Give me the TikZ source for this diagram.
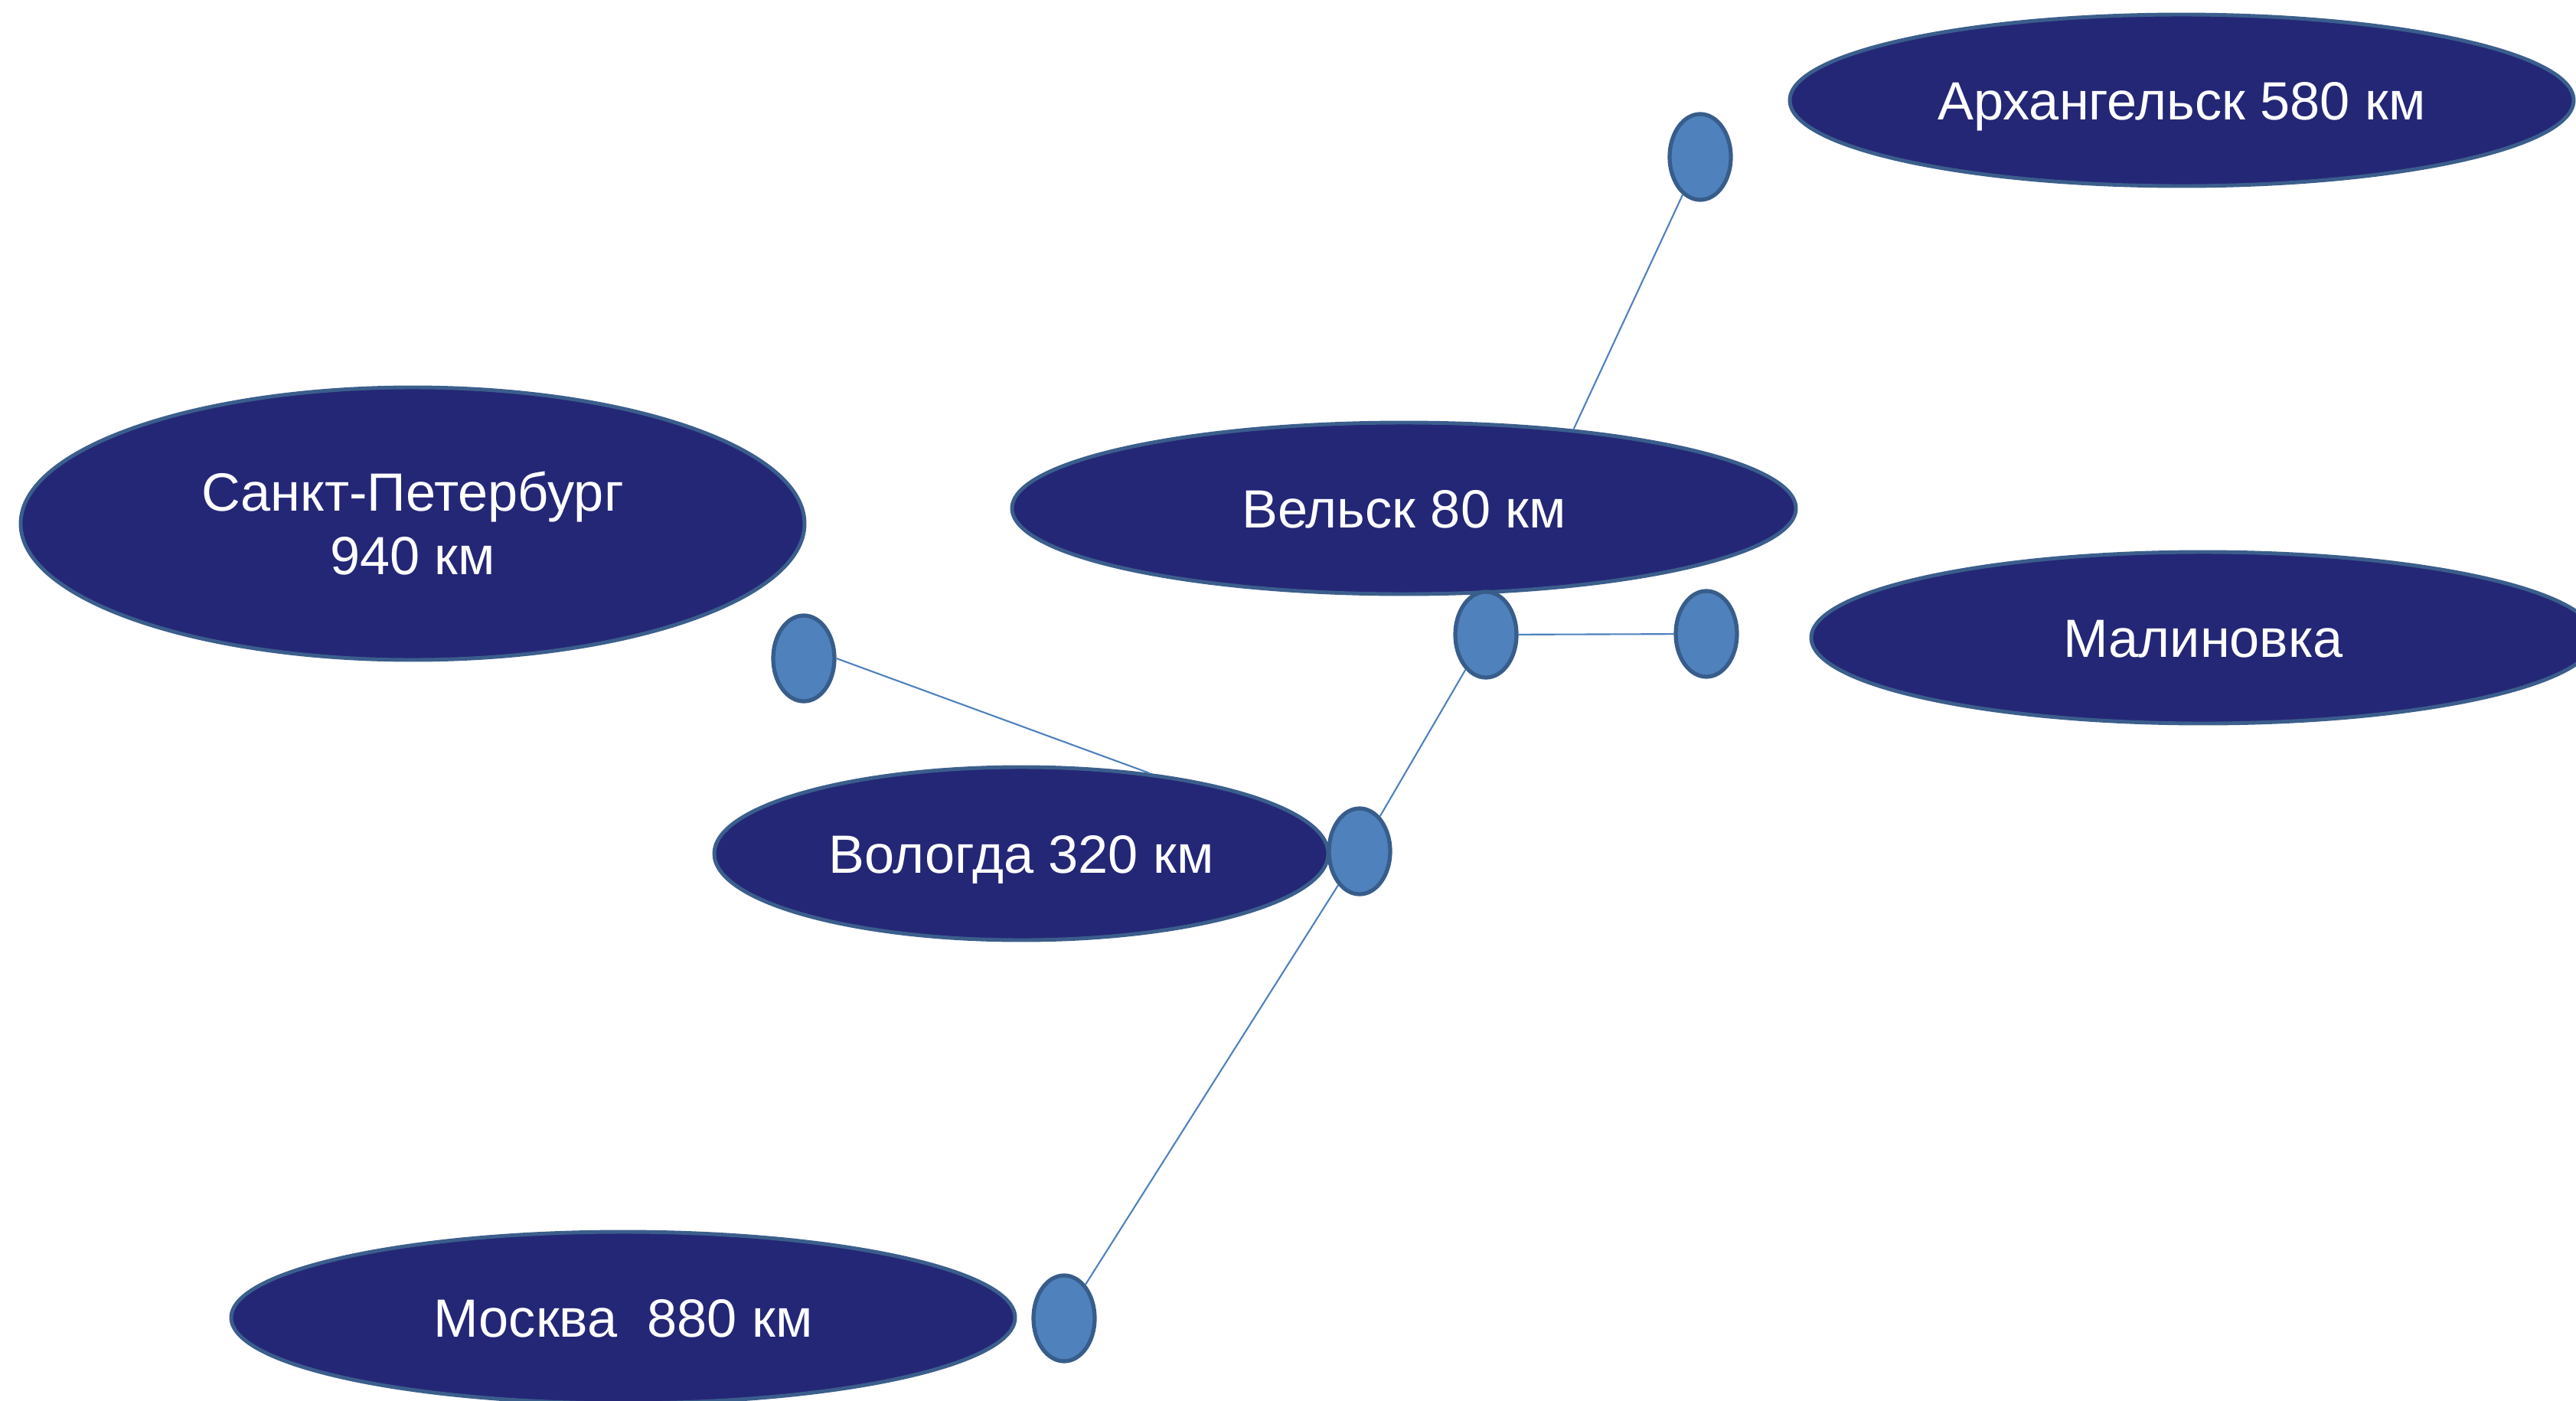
\documentclass[tikz,border=0pt]{standalone}
\usepackage{fontspec}
\setmainfont{Liberation Sans}
\usetikzlibrary{shapes.geometric}
\definecolor{cityfill}{RGB}{36,39,118}
\definecolor{cityedge}{RGB}{59,94,140}
\definecolor{dotfill}{RGB}{79,129,189}
\definecolor{dotedge}{RGB}{56,93,138}
\tikzset{
	cityblob/.style={ellipse, draw=cityedge, line width=1.4pt, fill=cityfill, text=white, inner sep=0pt,
		minimum width=10.24cm, minimum height=2.24cm, font=\fontsize{20}{23.6}\selectfont,
		text height=14.3pt, text depth=0pt, align=center},
	stopdot/.style={ellipse, draw=dotedge, line width=1.5pt, fill=dotfill, inner sep=0pt,
		minimum width=0.8cm, minimum height=1.12cm},
	road/.style={draw=dotfill, line width=0.6pt}
}
\begin{document}
\begin{tikzpicture}
			\useasboundingbox (0,0) rectangle (33.65,-18.30);
			\node (arh)[cityblob] at (28.50,-1.31) {Архангельск 580 км};
			\node (spb)[cityblob, minimum height=3.56cm, text height=, text depth=] at (5.39,-6.84) {Санкт-Петербург\\940 км};
			\node (vel)[cityblob] at (18.34,-6.64) {Вельск 80 км};
			\node (mal)[cityblob] at (28.78,-8.33) {Малиновка};
			\node (vol)[cityblob, minimum width=8.02cm, minimum height=2.26cm] at (13.34,-11.15) {Вологда 320 км};
			\node (msk)[cityblob] at (8.14,-17.21) {Москва~ 880 км};

			\node (darh)[stopdot] at (22.21,-2.05) {};
			\node (dspb)[stopdot] at (10.50,-8.60) {};
			\node (dvel)[stopdot] at (19.41,-8.29) {};
			\node (dmal)[stopdot] at (22.29,-8.28) {};
			\node (dvol)[stopdot] at (17.76,-11.12) {};
			\node (dmsk)[stopdot] at (13.90,-17.22) {};

			\draw [road](darh) -- (vel.25);
			\draw [road](dspb.east) -- (vol.32);
			\draw [road](dvel) -- (dmal);
			\draw [road](dvel) -- (dvol);
			\draw [road](dvol) -- (dmsk);
		\end{tikzpicture}
\end{document}
